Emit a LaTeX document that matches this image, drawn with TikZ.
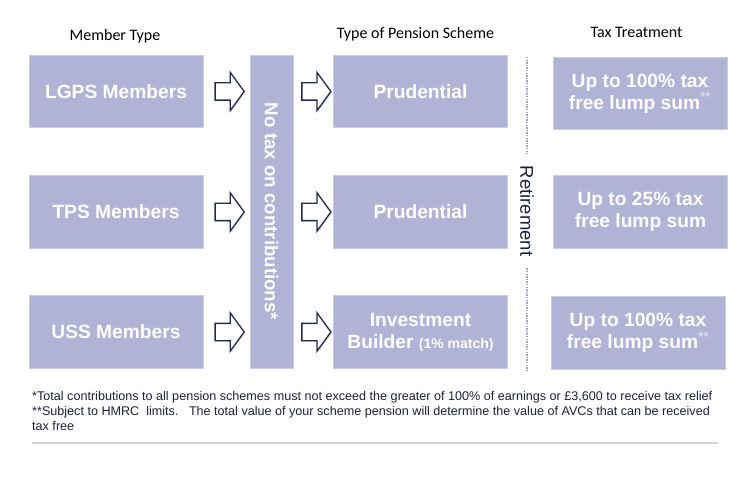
\documentclass[tikz,border=0pt]{standalone}
\usepackage{fontspec}
\setmainfont{Liberation Sans}
\newfontfamily\headfont{Carlito}
\usetikzlibrary{positioning,calc,shapes.arrows,shadows}
\definecolor{boxfill}{HTML}{B0B3D6}
\definecolor{boxedge}{HTML}{C9CCE8}
\definecolor{arrowline}{HTML}{1F2E4C}
\definecolor{dotline}{HTML}{9DA1C9}
\definecolor{rulegray}{HTML}{D3D3D3}
\definecolor{notetext}{HTML}{1E2236}

\tikzset{
  box/.style={draw=boxedge, line width=0.8pt, fill=boxfill, text=white,
    font=\bfseries\fontsize{19.2}{22}\selectfont, minimum width=174pt,
    minimum height=72.5pt, align=center, inner sep=0pt},
  blockarrow/.style={single arrow, draw=arrowline, fill=white, line width=1.3pt,
    minimum height=29pt, text height=0pt, text depth=0pt, inner ysep=8pt,
    inner xsep=0pt, single arrow head extend=10.5pt, single arrow tip angle=108,
    drop shadow={shadow xshift=1.2pt, shadow yshift=-1.2pt, opacity=0.25}},
  header/.style={font=\headfont\fontsize{16}{19}\selectfont, anchor=base},
  note/.style={font=\fontsize{12.6}{15}\selectfont, text=notetext, anchor=base west, inner sep=0pt},
}
\newcommand{\stars}{\textsuperscript{\color{white!55!boxfill}**}}

\begin{document}
\begin{tikzpicture}[x=1pt, y=-1pt]
  \useasboundingbox (0,0) rectangle (752,489);

  % column headers
  \node[header] (hmember) at (115,40.7) {Member Type};
  \node[header] (hscheme) at (415.5,39) {Type of Pension Scheme};
  \node[header] (htax) at (636.5,37.7) {Tax Treatment};

  % member types
  \node[box] (lgps) at (116,91.5) {LGPS Members};
  \node[box] (tps) at (116,212) {TPS Members};
  \node[box] (uss) at (116,332) {USS Members};

  % contributions column
  \node[box, minimum width=43pt, minimum height=313pt] (notax) at (271.5,211.5) {};
  \node[text=white, font=\bfseries\fontsize{18.7}{22}\selectfont, rotate=-90] (notaxtxt) at (notax.center) {No tax on contributions*};

  % pension schemes
  \node[box] (pru1) at (420.5,91.5) {Prudential};
  \node[box] (pru2) at (420.5,212) {Prudential};
  \node[box] (invest) at (420.5,332) {Investment\\Builder {\fontsize{14}{16}\selectfont(1\% match)}};

  % arrows between the columns
  \foreach \m/\s in {lgps/pru1, tps/pru2, uss/invest} {
    \node[blockarrow] (in\m) at ($(\m.east)!0.5!(notax.west |- \m.east)$) {};
    \node[blockarrow] (out\m) at ($(notax.east |- \s.west)!0.5!(\s.west)$) {};
  }

  % retirement divider
  \node[rotate=-90, text=notetext, font=\fontsize{18.5}{22}\selectfont, inner xsep=12pt, inner ysep=0pt] (retire) at (527,211) {Retirement};
  \coordinate (dtop) at (527,57);
  \coordinate (dbot) at (527,370);
  \draw[dotline, line width=1.4pt, dash pattern=on 1.4pt off 1.2pt] (dtop) -- (retire.west);
  \draw[dotline, line width=1.4pt, dash pattern=on 1.4pt off 1.2pt] (retire.east) -- (dbot);

  % tax treatment
  \node[box] (tax1) at (640,93.5) {Up to 100\% tax\\free lump sum\stars};
  \node[box] (tax2) at (640.5,212) {Up to 25\% tax\\free lump sum};
  \node[box] (tax3) at (638,333) {Up to 100\% tax\\free lump sum\stars};

  % footnotes
  \node[note] (note1) at (32,400) {*Total contributions to all pension schemes must not exceed the greater of 100\% of earnings or £3,600 to receive tax relief};
  \node[note] (note2) at (32,415) {**Subject to HMRC\ \ limits.\ \ \ The total value of your scheme pension will determine the value of AVCs that can be received};
  \node[note] (note3) at (32,430) {tax free};
  \coordinate (rulel) at (32,443);
  \coordinate (ruler) at (718,443);
  \draw[rulegray, line width=1.5pt] (rulel) -- (ruler);
\end{tikzpicture}
\end{document}
